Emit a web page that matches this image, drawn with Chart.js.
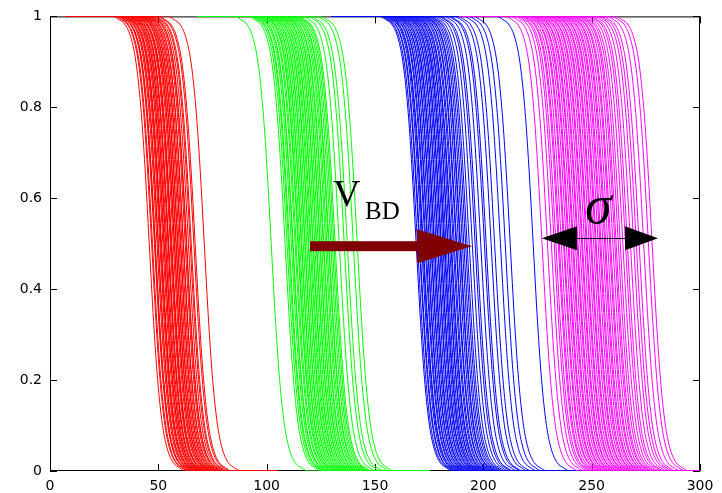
<!DOCTYPE html>
<html>
<head>
<meta charset="utf-8">
<script src="https://cdn.jsdelivr.net/npm/chart.js@4/dist/chart.umd.min.js"></script>
<style>
  html, body { margin: 0; padding: 0; background: #fff; }
  canvas { display: block; }
</style>
</head>
<body>
<canvas id="vbdChart" width="722" height="493"></canvas>
<script>
// 50% points of every curve, one list per population
var redCenters = [45.8, 46.9, 47.3, 48.2, 48.5, 48.6, 49.4, 49.9, 50.0, 50.7, 51.1, 51.3, 51.4, 52.1,
    52.6, 52.7, 53.3, 53.4, 53.9, 54.5, 54.6, 54.8, 55.5, 55.9, 56.0, 56.2, 56.9, 57.4, 57.5, 58.1,
    58.3, 58.9, 59.0, 59.6, 60.2, 60.3, 60.9, 61.5, 61.6, 62.4, 62.9, 63.1, 63.9, 64.7, 65.2, 66.4,
    67.0, 71.2];
var greenCenters = [102.1, 108.5, 109.4, 110.1, 110.5, 111.4, 112.0, 112.2, 113.1, 113.6, 114.4, 114.7,
    115.3, 116.0, 116.2, 116.9, 117.6, 117.8, 118.5, 119.2, 119.4, 120.1, 120.6, 121.3, 121.5, 122.2,
    122.9, 123.1, 123.8, 124.5, 124.7, 125.4, 126.1, 126.4, 127.2, 127.8, 128.5, 128.8, 129.6, 130.3,
    131.0, 131.6, 133.5, 135.8, 137.2, 140.0, 141.8];
var blueCenters = [169.0, 169.6, 170.4, 170.7, 171.5, 172.0, 172.3, 173.1, 173.5, 174.2, 174.4, 175.1,
    175.8, 176.0, 176.7, 177.3, 177.5, 178.2, 178.9, 179.1, 179.8, 180.4, 180.6, 181.3, 181.9, 182.2,
    182.8, 183.5, 183.7, 184.4, 185.0, 185.3, 186.1, 186.6, 187.4, 187.7, 188.5, 189.2, 189.5, 190.3,
    191.0, 191.8, 192.5, 193.5, 194.9, 196.2, 197.0, 198.8, 200.5, 201.3, 203.6, 205.2, 207.9, 210.1,
    212.4, 223.0];
var magentaCenters = [227.1, 229.6, 231.4, 232.7, 233.5, 234.6, 235.1, 236.0, 237.0, 237.4, 238.3, 239.1,
    239.5, 240.4, 241.2, 241.6, 242.5, 243.3, 243.7, 244.6, 245.4, 245.8, 246.7, 247.5, 247.9, 248.8,
    249.6, 250.0, 250.9, 251.7, 252.1, 253.0, 253.8, 254.3, 255.2, 256.0, 256.5, 257.4, 258.3, 258.8,
    259.8, 260.7, 261.3, 262.3, 263.2, 264.4, 265.6, 266.5, 267.9, 269.4, 270.6, 271.9, 274.0, 276.2,
    277.9];

// shape of one curve, offset from its 50% point
var profileDx = [-17, -14, -11, -8.5, -6.5, -5, -3.5, -2, -1, 0, 1, 2, 3.5, 5, 6.5, 8.5, 11, 14, 17];
var profileY = [1, 0.993, 0.981, 0.954, 0.911, 0.856, 0.777, 0.671, 0.588, 0.5, 0.412, 0.329, 0.223,
    0.144, 0.089, 0.046, 0.019, 0.007, 0];

// x span each population is plotted over
var groupFrom = [7, 68, 130, 189];
var groupTo = [105, 175, 257, 300];
var groupColors = ["#ff0000", "#00ff00", "#0000ff", "#ff00ff"];

var xTicks = [0, 50, 100, 150, 200, 250, 300];
var yTicks = [0, 0.2, 0.4, 0.6, 0.8, 1];

var groups = [redCenters, greenCenters, blueCenters, magentaCenters];
var datasets = [];
groups.forEach(function (centers, g) {
    centers.forEach(function (c) {
        var pts = [{x: groupFrom[g], y: 1}];
        for (var i = 0; i < profileDx.length; i++) {
            pts.push({x: c + profileDx[i], y: profileY[i]});
        }
        pts.push({x: groupTo[g], y: 0});
        datasets.push({
            data: pts,
            borderColor: groupColors[g],
            borderWidth: 1,
            pointRadius: 0,
            fill: false,
            cubicInterpolationMode: "monotone",
            order: 3 - g
        });
    });
});

function arrowHead(ctx, baseX, tipX, y, half) {
    ctx.beginPath();
    ctx.moveTo(baseX, y - half);
    ctx.lineTo(tipX, y);
    ctx.lineTo(baseX, y + half);
    ctx.closePath();
    ctx.fill();
}

var framePlugin = {
    id: "frame",
    beforeDatasetsDraw: function (chart) {
        var ctx = chart.ctx, a = chart.chartArea;
        var xs = chart.scales.x, ys = chart.scales.y;
        ctx.save();
        ctx.strokeStyle = "#000";
        ctx.lineWidth = 1;
        ctx.strokeRect(a.left + 0.5, a.top + 0.5, a.right - a.left - 1, a.bottom - a.top - 1);
        ctx.beginPath();
        xTicks.forEach(function (v) {
            var px = Math.round(xs.getPixelForValue(v)) + 0.5;
            ctx.moveTo(px, a.bottom); ctx.lineTo(px, a.bottom - 7);
            ctx.moveTo(px, a.top); ctx.lineTo(px, a.top + 7);
        });
        yTicks.forEach(function (v) {
            var py = Math.round(ys.getPixelForValue(v)) + 0.5;
            ctx.moveTo(a.left, py); ctx.lineTo(a.left + 7, py);
            ctx.moveTo(a.right, py); ctx.lineTo(a.right - 7, py);
        });
        ctx.stroke();
        ctx.restore();
    },
    afterDatasetsDraw: function (chart) {
        var ctx = chart.ctx;
        var xs = chart.scales.x, ys = chart.scales.y;
        ctx.save();

        // V_BD shift arrow
        var y1 = ys.getPixelForValue(0.4945);
        var x0 = xs.getPixelForValue(120), xb = xs.getPixelForValue(169.4), xt = xs.getPixelForValue(194.8);
        ctx.fillStyle = "#800000";
        ctx.fillRect(x0, y1 - 5, xb - x0, 10);
        arrowHead(ctx, xb, xt, y1, 17);

        ctx.fillStyle = "#000";
        ctx.textAlign = "left";
        ctx.textBaseline = "alphabetic";
        ctx.font = "38px 'Liberation Serif'";
        ctx.fillText("V", xs.getPixelForValue(130.6), ys.getPixelForValue(0.582));
        ctx.font = "25px 'Liberation Serif'";
        ctx.fillText("BD", xs.getPixelForValue(145.4), ys.getPixelForValue(0.5536));

        // sigma spread arrow
        var y2 = ys.getPixelForValue(0.512);
        var l1 = xs.getPixelForValue(227), l2 = xs.getPixelForValue(243.2);
        var r1 = xs.getPixelForValue(265.4), r2 = xs.getPixelForValue(280.6);
        ctx.strokeStyle = "#000";
        ctx.lineWidth = 1;
        ctx.beginPath();
        ctx.moveTo(l2, Math.round(y2) + 0.5);
        ctx.lineTo(r1, Math.round(y2) + 0.5);
        ctx.stroke();
        arrowHead(ctx, l2, l1, y2, 12);
        arrowHead(ctx, r1, r2, y2, 12);
        ctx.font = "italic 54px 'Liberation Serif'";
        ctx.fillText("\u03c3", xs.getPixelForValue(246.9), ys.getPixelForValue(0.545));

        ctx.restore();
    }
};

new Chart("vbdChart", {
    type: "line",
    data: {datasets: datasets},
    options: {
        responsive: false,
        animation: false,
        events: [],
        parsing: false,
        layout: {padding: {top: 14, right: 22, left: 0, bottom: 0}},
        plugins: {
            legend: {display: false},
            tooltip: {enabled: false}
        },
        scales: {
            x: {
                type: "linear",
                min: 0,
                max: 300,
                afterBuildTicks: function (s) { s.ticks = xTicks.map(function (v) { return {value: v}; }); },
                afterFit: function (s) { s.height = 22; },
                grid: {display: false, drawTicks: false},
                border: {display: false},
                ticks: {
                    padding: 7,
                    color: "#000",
                    font: {family: "'DejaVu Sans'", size: 14},
                    callback: function (v) { return String(v); }
                }
            },
            y: {
                type: "linear",
                min: 0,
                max: 1,
                afterBuildTicks: function (s) { s.ticks = yTicks.map(function (v) { return {value: v}; }); },
                afterFit: function (s) { s.width = 50; },
                grid: {display: false, drawTicks: false},
                border: {display: false},
                ticks: {
                    padding: 8,
                    color: "#000",
                    font: {family: "'DejaVu Sans'", size: 14},
                    callback: function (v) { return String(v); }
                }
            }
        }
    },
    plugins: [framePlugin]
});
</script>
</body>
</html>
